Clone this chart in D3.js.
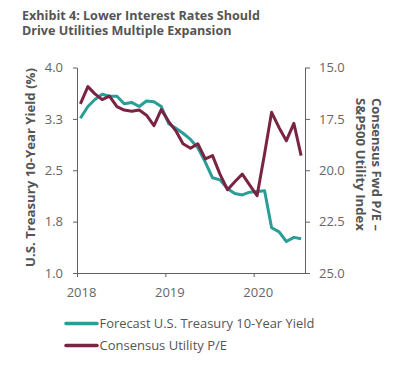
<!DOCTYPE html>
<html><head><meta charset="utf-8">
<script src="https://cdn.jsdelivr.net/npm/d3@7"></script>
<style>body{margin:0;background:#fff}svg{display:block}text{font-family:"Open Sans",sans-serif}</style>
</head><body><svg id="c" width="397" height="366"></svg>
<script>
// Monthly observations, Jan 2018 - Jul 2020 (mid-month positions)
const months = d3.range(31).map(i => new Date(2018, i, 15));
const treasuryYield = [3.26,3.43,3.53,3.61,3.58,3.58,3.47,3.49,3.43,3.51,3.50,3.43,
  3.18,3.11,3.04,2.95,2.83,2.62,2.39,2.36,2.23,2.16,2.14,2.18,2.19,2.20,1.66,1.60,1.46,1.52,1.50];
const utilityPE = [16.77,15.93,16.27,16.56,16.39,16.90,17.07,17.13,17.07,17.32,17.83,17.05,
  17.63,18.11,18.71,18.93,18.71,19.45,19.29,20.20,20.95,20.56,20.19,20.71,21.24,19.20,17.18,17.93,18.56,17.72,19.29];
const leftTicks = [1.0,1.75,2.5,3.25,4.0];
const leftTickLabels = ["1.0","1.8","2.5","3.3","4.0"];
const rightTicks = [15,17.5,20,22.5,25];
const xTicks = [new Date(2018,0,1), new Date(2019,0,1), new Date(2020,0,1)];
const xTickLabels = ["2018","2019","2020"];
const titleLines = ["Exhibit 4: Lower Interest Rates Should","Drive Utilities Multiple Expansion"];
const leftTitle = "U.S. Treasury 10-Year Yield (%)";
const rightTitle = ["Consensus  Fwd P/E \u2013","S&P500 Utility Index"];
const seriesNames = ["Forecast U.S. Treasury 10-Year Yield","Consensus Utility P/E"];
const colors = ["#2a9d96","#7a2343"];

const svg = d3.select("#c");
const L = 77, R = 305, T = 67.5, B = 273;
const x = d3.scaleTime().domain([new Date(2018,0,1), new Date(2020,6,31)]).range([L, R]);
const yL = d3.scaleLinear().domain([1,4]).range([B, T]);
const yR = d3.scaleLinear().domain([25,15]).range([B, T]);
const grey = "#606060";

function fit(sel, w){ const n=sel.node(); const cur=parseFloat(sel.attr("font-size")); const len=n.getComputedTextLength(); sel.attr("font-size", (cur*w/len).toFixed(2)); }

// Title (two lines)
const titleSel = titleLines.map((t,i)=> svg.append("text").attr("x",22).attr("y",19.8+i*15.6)
  .attr("font-size",13).attr("font-weight","bold").attr("fill","#555").text(t));
fit(titleSel[0],238);
titleSel[1].attr("font-size", titleSel[0].attr("font-size"));

// Axes
const gl = svg.append("g").attr("transform",`translate(${L},0)`)
  .call(d3.axisLeft(yL).tickValues(leftTicks).tickFormat((d,i)=>leftTickLabels[i]).tickSize(4).tickPadding(10).tickSizeOuter(0));
const gr = svg.append("g").attr("transform",`translate(${R},0)`)
  .call(d3.axisRight(yR).tickValues(rightTicks).tickFormat(d3.format(".1f")).tickSize(5).tickPadding(9).tickSizeOuter(0));
const gb = svg.append("g").attr("transform",`translate(0,${B})`)
  .call(d3.axisBottom(x).tickValues(xTicks).tickFormat((d,i)=>xTickLabels[i]).tickSize(4).tickPadding(11).tickSizeOuter(0));
gb.selectAll(".tick text").attr("dx",4);
[gl,gr,gb].forEach(g=>{
  g.select(".domain").attr("stroke",grey);
  g.selectAll(".tick line").attr("stroke",grey);
  g.selectAll(".tick text").attr("fill","#666").attr("font-size",13).attr("font-family","'Open Sans',sans-serif");
});

// Axis titles
const lt = svg.append("text").attr("transform",`translate(35,167.5) rotate(-90)`).attr("text-anchor","middle")
  .attr("font-size",13).attr("font-weight","bold").attr("fill","#555").text(leftTitle);
fit(lt,199);
rightTitle.forEach((t,i)=>{
  const s = svg.append("text").attr("transform",`translate(${372-i*16},98) rotate(90)`)
    .attr("font-size",12.5).attr("font-weight","bold").attr("fill","#555").text(t);
  fit(s,133);
});

// Lines
const line1 = d3.line().x((d,i)=>x(months[i])).y(d=>yL(d));
const line2 = d3.line().x((d,i)=>x(months[i])).y(d=>yR(d));
svg.append("path").datum(treasuryYield).attr("d",line1).attr("fill","none").attr("stroke",colors[0]).attr("stroke-width",3).attr("stroke-linejoin","round");
svg.append("path").datum(utilityPE).attr("d",line2).attr("fill","none").attr("stroke",colors[1]).attr("stroke-width",3).attr("stroke-linejoin","round");

// Legend
seriesNames.forEach((n,i)=>{
  const yy = 323.5 + i*22;
  svg.append("line").attr("x1",66).attr("x2",97).attr("y1",yy).attr("y2",yy).attr("stroke",colors[i]).attr("stroke-width",3.5).attr("stroke-linecap","round");
  const s = svg.append("text").attr("x",99.5).attr("y",yy).attr("dy","0.35em").attr("font-size",13).attr("fill","#555").text(n);
  if(i===0) fit(s,215);
});
</script></body></html>
